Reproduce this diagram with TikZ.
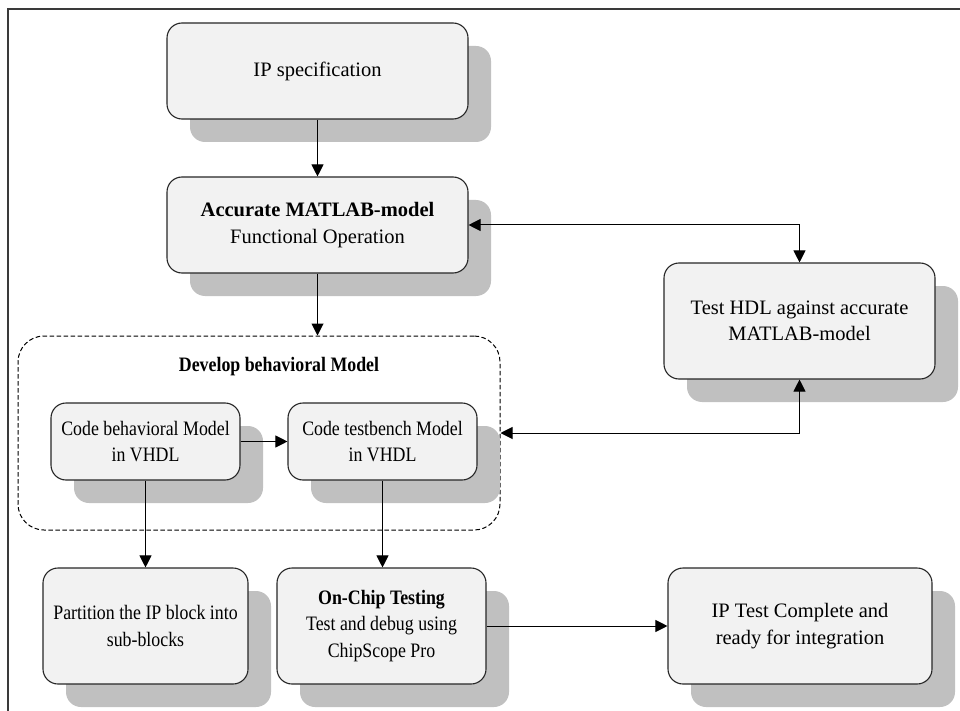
\documentclass[tikz,border=0pt]{standalone}
\usepackage{fontspec}
\setmainfont{Liberation Serif}
\newfontfamily\narrowserif[FakeStretch=0.87]{Liberation Serif}
\usetikzlibrary{arrows.meta,shadows}
\definecolor{boxfill}{HTML}{F2F2F2}
\definecolor{shadowgray}{HTML}{C0C0C0}
\definecolor{framegray}{HTML}{3A3A3A}
\begin{document}
\begin{tikzpicture}[x=1pt,y=-1pt,
  font=\fontsize{20.5}{26.5}\selectfont,
  box/.style={draw=black!85, line width=1.1pt, fill=boxfill, rounded corners=15pt,
    align=center, inner sep=2pt,
    drop shadow={shadow xshift=23pt, shadow yshift=-23pt, fill=shadowgray, opacity=1}},
  narrow/.style={font=\narrowserif\fontsize{20.5}{26.5}\selectfont},
  conn/.style={line width=1pt, -{Triangle[length=12pt,width=12pt]}},
  biconn/.style={line width=1pt, {Triangle[length=12pt,width=12pt]}-{Triangle[length=12pt,width=12pt]}}]
\useasboundingbox (0,0) rectangle (960,711);
% outer frame (top and left edges only)
\draw[framegray, line width=1.4pt] (960,9) -- (8,9) -- (8,711);

% group around the VHDL steps
\node[draw=black, dash pattern=on 4.5pt off 2.5pt, line width=1pt,
  rounded corners=26pt, minimum width=482pt, minimum height=194pt] (dev) at (259,433) {};
\node[narrow] (devtitle) at (279,367) {\bfseries Develop behavioral Model};

% process steps
\node[box, minimum width=301pt, minimum height=96pt] (spec) at (317.5,71) {IP specification};
\node[box, minimum width=301pt, minimum height=96pt] (matlab) at (317.5,225)
  {\textbf{Accurate MATLAB-model}\\Functional Operation};
\node[box, minimum width=271pt, minimum height=116pt] (hdl) at (799.5,321)
  {Test HDL against accurate\\MATLAB-model};
\node[box, narrow, minimum width=189pt, minimum height=77pt] (beh) at (145.5,441.5)
  {Code behavioral Model\\in VHDL};
\node[box, narrow, minimum width=189pt, minimum height=77pt] (tb) at (382.5,441.5)
  {Code testbench Model\\in VHDL};
\node[box, narrow, minimum width=205pt, minimum height=116pt] (part) at (145.5,626)
  {Partition the IP block into\\sub-blocks};
\node[box, narrow, minimum width=209pt, minimum height=116pt] (chip) at (381.5,626)
  {\textbf{On-Chip Testing}\\Test and debug using\\ChipScope Pro};
\node[box, minimum width=264pt, minimum height=116pt] (done) at (800,626)
  {IP Test Complete and\\ready for integration};

% connectors
\draw[conn] (spec) -- (matlab);
\draw[conn] (matlab.south) -- (matlab.south |- dev.north);
\draw[conn] (beh) -- (tb);
\draw[conn] (beh.south) -- (part.north);
\draw[conn] (tb.south) -- (tb.south |- chip.north);
\draw[conn] (chip) -- (done);
\draw[biconn] (matlab.east) -| (hdl.north);
\draw[biconn] (dev.east) -| (hdl.south);
\end{tikzpicture}
\end{document}
